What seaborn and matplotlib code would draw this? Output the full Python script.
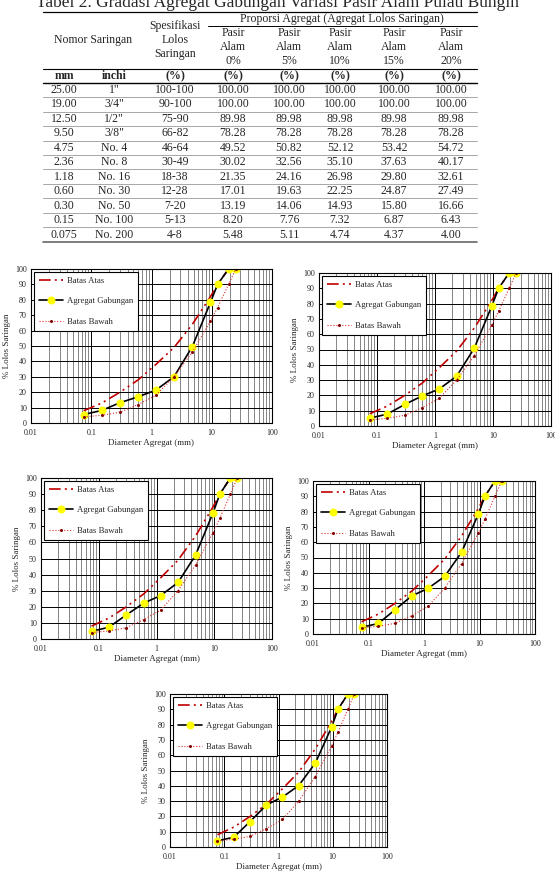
import pandas as pd
import matplotlib
matplotlib.use("Agg")
import matplotlib.pyplot as plt
import seaborn as sns
from matplotlib.ticker import FixedLocator, FixedFormatter, NullFormatter

# 1. 全局配置
sns.set_theme(style="white")
plt.rcParams["font.family"] = ["Liberation Serif", "DejaVu Serif"]

# 2. 数据
sieve_mm = [0.075, 0.15, 0.30, 0.60, 1.18, 2.36, 4.75, 9.50, 12.50, 19.00, 25.00]
sieve_inch = ['No. 200', 'No. 100', 'No. 50', 'No. 30', 'No. 16', 'No. 8', 'No. 4',
              '3/8"', '1/2"', '3/4"', '1"']
spec_upper = [8, 13, 20, 28, 38, 49, 64, 82, 90, 100, 100]
spec_lower = [4, 5, 7, 12, 18, 30, 46, 66, 75, 90, 100]
variants = ['0%', '5%', '10%', '15%', '20%']
gab_0 = [5.48, 8.20, 13.19, 17.01, 21.35, 30.02, 49.52, 78.28, 89.98, 100.00, 100.00]
gab_5 = [5.11, 7.76, 14.06, 19.63, 24.16, 32.56, 50.82, 78.28, 89.98, 100.00, 100.00]
gab_10 = [4.74, 7.32, 14.93, 22.25, 26.98, 35.10, 52.12, 78.28, 89.98, 100.00, 100.00]
gab_15 = [4.37, 6.87, 15.80, 24.87, 29.80, 37.63, 53.42, 78.28, 89.98, 100.00, 100.00]
gab_20 = [4.00, 6.43, 16.66, 27.49, 32.61, 40.17, 54.72, 78.28, 89.98, 100.00, 100.00]
gab_all = [gab_0, gab_5, gab_10, gab_15, gab_20]

W, H = 555, 873
fig = plt.figure(figsize=(W / 100, H / 100), dpi=100)

# --- 表格 (像素坐标) ---
tab = fig.add_axes([0, 1 - 250 / H, 1, 250 / H])
tab.set_xlim(0, W)
tab.set_ylim(250, 0)
tab.axis('off')

tab.text(W / 2, 3, 'Tabel 2. Gradasi Agregat Gabungan Variasi Pasir Alam Pulau Bungin',
         ha='center', va='center', fontsize=12.5, clip_on=False)
col_x = [64, 114, 175, 233, 289, 340, 394, 451]
x0, x1 = 43, 477
tab.plot([x0, x1], [12, 12], color='black', lw=0.9)
tab.text(342, 19, 'Proporsi Agregat (Agregat Lolos Saringan)', ha='center', va='center', fontsize=8.5)
tab.plot([208, x1], [25.5, 25.5], color='black', lw=0.7)
tab.text(93, 40, 'Nomor Saringan', ha='center', va='center', fontsize=8.5)
tab.text(col_x[2], 40, 'Spesifikasi\nLolos\nSaringan', ha='center', va='center', fontsize=8.5,
         linespacing=1.25)
for cx, v in zip(col_x[3:], variants):
    tab.text(cx, 47, 'Pasir\nAlam\n' + v, ha='center', va='center', fontsize=8.5, linespacing=1.25)
tab.plot([x0, x1], [68.5, 68.5], color='black', lw=0.8)
units = ['mm', 'inchi'] + ['(%)'] * 6
for cx, u in zip(col_x, units):
    tab.text(cx, 76, u, ha='center', va='center', fontsize=8.5, fontweight='bold')
tab.plot([x0, x1], [83, 83], color='black', lw=1.0)

spec_txt = [f'{lo}-{up}' for lo, up in zip(spec_lower, spec_upper)]
rows = list(range(len(sieve_mm)))[::-1]
for r, idx in enumerate(rows):
    y = 90 + r * 14.45
    mm = sieve_mm[idx]
    mm_txt = '0.075' if mm == 0.075 else f'{mm:.2f}'
    vals = [mm_txt, sieve_inch[idx], spec_txt[idx]] + [f'{g[idx]:.2f}' for g in gab_all]
    for cx, t in zip(col_x, vals):
        tab.text(cx, y, t, ha='center', va='center', fontsize=8.5)
    if r < len(rows) - 1:
        tab.plot([x0, x1], [y + 7.2, y + 7.2], color='#999999', lw=0.6)
tab.plot([x0, x1], [242, 242], color='#666666', lw=1.2)

# --- 曲线图 ---
boxes = [(31, 269, 272, 423), (319, 273, 551, 426), (41, 478, 272, 639),
         (313, 481, 535, 634), (170, 694, 387, 847)]

major_x = [0.01, 0.1, 1, 10, 100]
minor_x = [m * d for d in [0.01, 0.1, 1, 10] for m in range(2, 10)]

for (l, t, r, b), gab in zip(boxes, gab_all):
    ax = fig.add_axes([l / W, 1 - b / H, (r - l) / W, (b - t) / H])
    df = pd.DataFrame({'mm': sieve_mm, 'atas': spec_upper, 'gab': gab, 'bawah': spec_lower})
    ax.set_xscale('log')
    sns.lineplot(data=df, x='mm', y='atas', ax=ax, color='#C00000', lw=1.2,
                 dashes=False, label='Batas Atas', estimator=None, sort=False)
    ax.lines[-1].set_dashes([7, 2.5, 1.2, 2.5, 1.2, 2.5])
    sns.lineplot(data=df, x='mm', y='gab', ax=ax, color='black', lw=1.2,
                 marker='o', markersize=5, markerfacecolor='#FFFF00',
                 markeredgecolor='#FFFF00', label='Agregat Gabungan', estimator=None, sort=False)
    sns.lineplot(data=df, x='mm', y='bawah', ax=ax, color='#E03030', lw=0.8,
                 marker='o', markersize=1.4, markerfacecolor='#800000', markeredgecolor='#800000',
                 label='Batas Bawah', estimator=None, sort=False)
    ax.lines[-1].set_linestyle(':')

    ax.set_xlim(0.01, 100)
    ax.set_ylim(0, 100)
    ax.xaxis.set_major_locator(FixedLocator(major_x))
    ax.xaxis.set_major_formatter(FixedFormatter(['0.01', '0.1', '1', '10', '100']))
    ax.xaxis.set_minor_locator(FixedLocator(minor_x))
    ax.xaxis.set_minor_formatter(NullFormatter())
    ax.set_yticks(range(0, 101, 10))
    ax.grid(True, which='major', axis='both', color='black', lw=0.7)
    ax.grid(True, which='minor', axis='x', color='#555555', lw=0.5)
    ax.set_axisbelow(True)
    ax.tick_params(axis='both', labelsize=5.8, length=0)
    ax.tick_params(axis='x', pad=4)
    ax.tick_params(axis='y', pad=3)
    ax.set_xlabel('Diameter Agregat (mm)', fontsize=6.5, labelpad=2)
    ax.set_ylabel('% Lolos Saringan', fontsize=6.5, labelpad=3)
    for s in ax.spines.values():
        s.set_color('black')
        s.set_linewidth(0.8)
    leg = ax.legend(loc='upper left', fontsize=6.3, frameon=True, fancybox=False,
                    edgecolor='black', framealpha=1, labelspacing=1.4, handlelength=2.8,
                    handletextpad=0.4, borderaxespad=0.3, borderpad=0.6)
    leg.get_frame().set_linewidth(0.8)

fig.savefig('out.png', dpi=100)
